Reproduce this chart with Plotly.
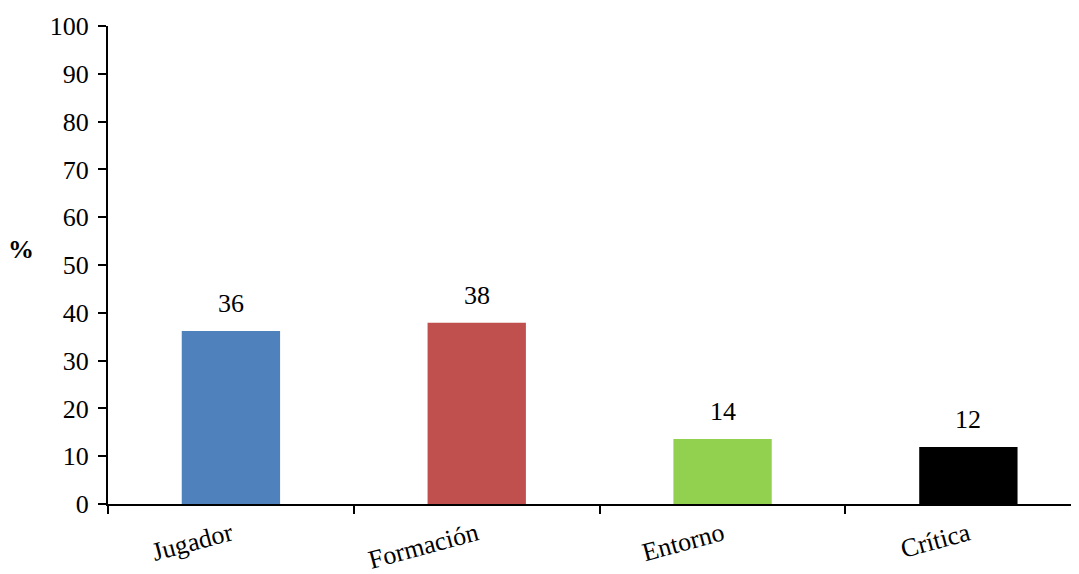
import plotly.graph_objects as go

categories = ["Jugador", "Formación", "Entorno", "Crítica"]
values = [36.2, 37.9, 13.6, 11.9]
labels = ["36", "38", "14", "12"]
colors = ["#4F81BD", "#C0504D", "#92D050", "#000000"]
y_ticks = list(range(0, 101, 10))

FONT = "Liberation Serif, Times New Roman, serif"
FS = 26

fig = go.Figure()
fig.add_trace(go.Bar(
    x=categories, y=values, marker=dict(color=colors, line=dict(width=0)),
    width=0.4, showlegend=False, hoverinfo="skip"))

for c, v, t in zip(categories, values, labels):
    fig.add_annotation(x=c, y=v, text=t, showarrow=False, yanchor="bottom",
                       yshift=11, font=dict(family=FONT, size=FS, color="black"))

fig.add_annotation(xref="paper", yref="paper", x=-0.09, y=0.533, text="<b>%</b>",
                   showarrow=False, xanchor="center", yanchor="middle",
                   font=dict(family=FONT, size=26, color="black"))

fig.update_layout(
    width=1071, height=566,
    margin=dict(l=100, r=0, t=18, b=70),
    paper_bgcolor="white", plot_bgcolor="white",
    font=dict(family=FONT, size=FS, color="black"),
    bargap=0.6,
)
fig.update_xaxes(
    range=[-0.5, 3.45], showline=True, linecolor="black", linewidth=2,
    ticks="outside", tickson="boundaries", ticklen=8, tickwidth=2, tickcolor="black",
    tickangle=-15, showgrid=False, zeroline=False, ticklabelstandoff=3,
    automargin=False,
    tickfont=dict(family=FONT, size=FS, color="black"))
fig.update_yaxes(
    range=[0, 100], tickvals=y_ticks, showline=True, linecolor="black", linewidth=2,
    ticks="outside", ticklen=8, tickwidth=2, tickcolor="black", showgrid=False,
    zeroline=False, ticklabelstandoff=4, automargin=False,
    tickfont=dict(family=FONT, size=FS, color="black"))

fig.write_html("out.html")
